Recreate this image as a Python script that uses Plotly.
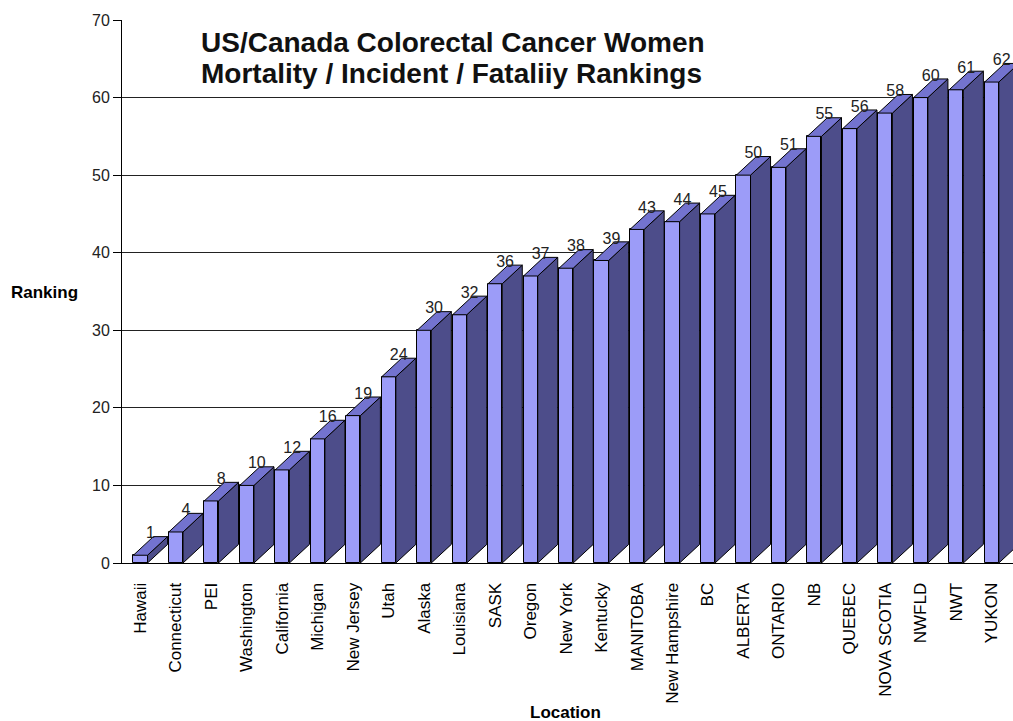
import plotly.graph_objects as go

# Locations ordered by ranking, with their ranking values
locations = ["Hawaii", "Connecticut", "PEI", "Washington", "California", "Michigan",
             "New Jersey", "Utah", "Alaska", "Louisiana", "SASK", "Oregon", "New York",
             "Kentucky", "MANITOBA", "New Hampshire", "BC", "ALBERTA", "ONTARIO", "NB",
             "QUEBEC", "NOVA SCOTIA", "NWFLD", "NWT", "YUKON"]
rankings = [1, 4, 8, 10, 12, 16, 19, 24, 30, 32, 36, 37, 38, 39, 43, 44, 45, 50,
            51, 55, 56, 58, 60, 61, 62]
y_ticks = [0, 10, 20, 30, 40, 50, 60, 70]

FONT = "Liberation Sans, Arial, sans-serif"
FRONT = "#9C9CF8"
TOP = "#7373CF"
SIDE = "#4D4D8A"

HALF_W = 0.2     # half width of the front face (category units)
DEPTH_X = 0.565  # oblique depth, horizontal (category units)
DEPTH_Y = 2.4    # oblique depth, vertical (value units)

idx = list(range(len(locations)))

# Build the right-side and top faces of each 3D column as filled polygons
side_x, side_y, top_x, top_y = [], [], [], []
for i, v in zip(idx, rankings):
    r = i + HALF_W
    l = i - HALF_W
    side_x += [r, r, r + DEPTH_X, r + DEPTH_X, r, None]
    side_y += [0, v, v + DEPTH_Y, DEPTH_Y, 0, None]
    top_x += [l, r, r + DEPTH_X, l + DEPTH_X, l, None]
    top_y += [v, v, v + DEPTH_Y, v + DEPTH_Y, v, None]

fig = go.Figure()

fig.add_trace(go.Bar(
    x=idx, y=rankings, width=2 * HALF_W,
    marker=dict(color=FRONT, line=dict(color="black", width=1)),
    hoverinfo="skip", showlegend=False,
))
fig.add_trace(go.Scatter(
    x=side_x, y=side_y, mode="lines", fill="toself", fillcolor=SIDE,
    line=dict(color="black", width=1), hoverinfo="skip", showlegend=False,
))
fig.add_trace(go.Scatter(
    x=top_x, y=top_y, mode="lines", fill="toself", fillcolor=TOP,
    line=dict(color="black", width=1), hoverinfo="skip", showlegend=False,
))

# Value labels sitting on the back edge of each column top
fig.add_trace(go.Scatter(
    x=[i + 0.28 for i in idx], y=[v + DEPTH_Y + 0.3 for v in rankings],
    mode="text", text=[str(v) for v in rankings], textposition="middle center",
    textfont=dict(family=FONT, size=16, color="#222222"),
    cliponaxis=False, hoverinfo="skip", showlegend=False,
))

L, R, T, B = 122, 0, 20, 158
W, H = 1013, 721
pw, ph = W - L - R, H - T - B


def px(x):
    return (x - L) / pw


def py(y):
    return (H - B - y) / ph


fig.update_layout(
    width=W, height=H,
    margin=dict(l=L, r=R, t=T, b=B, pad=0),
    paper_bgcolor="white", plot_bgcolor="white",
    bargap=0,
    xaxis=dict(
        range=[-0.52, 24.6], tickmode="array", tickvals=idx, ticktext=locations,
        tickangle=-90, tickfont=dict(family=FONT, size=17, color="black"),
        showgrid=False, zeroline=False, showline=True, linecolor="black", linewidth=1,
        ticks="", ticklabelstandoff=12,
    ),
    yaxis=dict(
        range=[0, 70], tickmode="array", tickvals=y_ticks,
        tickfont=dict(family=FONT, size=16, color="#222222"),
        showgrid=True, gridcolor="#222222", gridwidth=1,
        zeroline=False, showline=True, linecolor="black", linewidth=1,
        ticks="outside", ticklen=8, tickcolor="black",
    ),
    annotations=[
        dict(text="<b>US/Canada Colorectal Cancer Women</b>", xref="paper", yref="paper",
             x=px(199), y=py(42), xanchor="left", yanchor="middle", showarrow=False,
             font=dict(family=FONT, size=28, color="#111111")),
        dict(text="<b>Mortality / Incident / Fataliiy Rankings</b>", xref="paper", yref="paper",
             x=px(199), y=py(74), xanchor="left", yanchor="middle", showarrow=False,
             font=dict(family=FONT, size=28, color="#111111")),
        dict(text="<b>Ranking</b>", xref="paper", yref="paper",
             x=px(44), y=py(292), xanchor="center", yanchor="middle", showarrow=False,
             font=dict(family=FONT, size=17, color="black")),
        dict(text="<b>Location</b>", xref="paper", yref="paper",
             x=px(565), y=py(712), xanchor="center", yanchor="middle", showarrow=False,
             font=dict(family=FONT, size=17, color="black")),
    ],
)

fig.write_html("out.html")
